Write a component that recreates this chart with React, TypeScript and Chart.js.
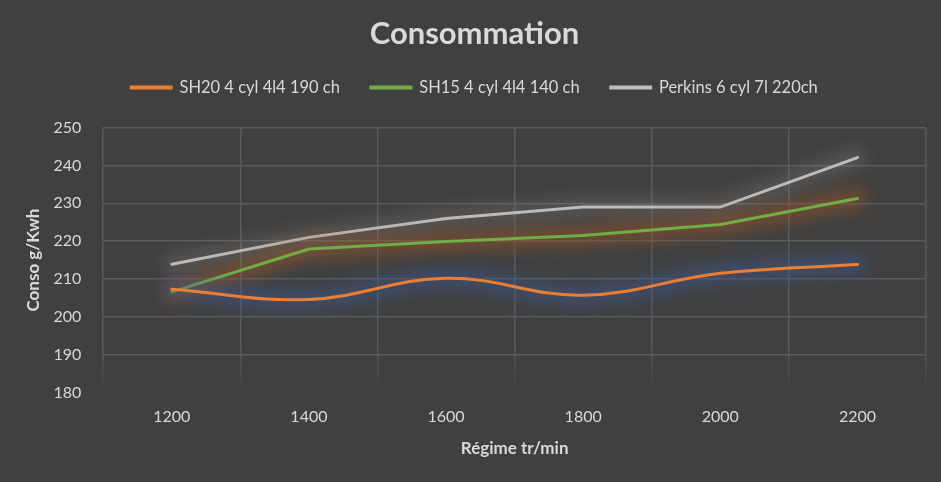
import React, { useEffect, useRef } from 'react';
import Chart from 'chart.js/auto';

const regimes = ['1200', '1400', '1600', '1800', '2000', '2200'];
const sh20 = [207.3, 204.6, 210.2, 205.7, 211.5, 213.8];
const sh15 = [206.6, 217.9, 219.9, 221.5, 224.4, 231.3];
const perkins = [213.9, 221, 226, 229, 229, 242.1];
const seriesLabels = ['SH20 4 cyl 4l4 190 ch', 'SH15 4 cyl 4l4 140 ch', 'Perkins 6 cyl 7l 220ch'];
const lineColors = ['#ED7D31', '#70AD47', '#BCBCBC'];
const glowColors = ['rgba(60, 90, 150, 0.55)', 'rgba(170, 90, 35, 0.5)', 'rgba(170, 170, 170, 0.22)'];

const FONT = 'Lato, "Open Sans", sans-serif';
const TEXT = '#D9D9D9';
const GRID = '#5A5A5A';

// Excel-like glow behind each line: a wide blurred stroke along the same path
const glowPlugin = {
    id: 'glow',
    beforeDatasetDraw(chart: any, args: any) {
        const line = args.meta.dataset;
        if (!line || !line.path) return;
        const ctx = chart.ctx;
        ctx.save();
        ctx.filter = 'blur(8px)';
        ctx.beginPath();
        line.path(ctx);
        ctx.strokeStyle = glowColors[args.index];
        ctx.lineWidth = 18;
        ctx.lineCap = 'round';
        ctx.lineJoin = 'round';
        ctx.stroke();
        ctx.restore();
    },
};

// extra room between the legend and the plot
const legendGap = {
    id: 'legendGap',
    beforeInit(chart: any) {
        const legend = chart.legend;
        if (!legend) return;
        const fit = legend.fit;
        legend.fit = function () {
            fit.bind(legend)();
            this.height += 22;
        };
    },
};

const App: React.FC = () => {
    const chartRef = useRef<HTMLCanvasElement | null>(null);

    useEffect(() => {
        const ctx = chartRef.current?.getContext('2d');
        if (!ctx) {
            return;
        }

        const fadeGrid = (c: any) => {
            const area = c.chart.chartArea;
            if (!area) return GRID;
            const g = c.chart.ctx.createLinearGradient(0, area.bottom - 45, 0, area.bottom);
            g.addColorStop(0, GRID);
            g.addColorStop(1, 'rgba(90, 90, 90, 0)');
            return g;
        };

        const data = [sh20, sh15, perkins];

        const myChart = new Chart(ctx, {
            type: 'line',
            data: {
                labels: regimes,
                datasets: data.map((values, i) => ({
                    label: seriesLabels[i],
                    data: values,
                    borderColor: lineColors[i],
                    backgroundColor: lineColors[i],
                    borderWidth: 3,
                    pointRadius: 0,
                    fill: false,
                    tension: i === 0 ? 0.4 : 0,
                    borderCapStyle: 'round',
                })),
            },
            plugins: [legendGap, glowPlugin],
            options: {
                responsive: true,
                maintainAspectRatio: false,
                animation: false,
                layout: {
                    padding: { top: 15, right: 15, bottom: 23, left: 23 },
                },
                plugins: {
                    title: {
                        display: true,
                        text: 'Consommation',
                        color: TEXT,
                        font: { family: FONT, size: 31, weight: 'bold' },
                        padding: { top: 0, bottom: -4 },
                    },
                    legend: {
                        display: true,
                        labels: {
                            color: TEXT,
                            font: { family: FONT, size: 16.5 },
                            boxWidth: 40,
                            boxHeight: 1,
                            padding: 31,
                        },
                    },
                    tooltip: { enabled: false },
                },
                scales: {
                    x: {
                        offset: true,
                        grid: {
                            offset: true,
                            color: fadeGrid,
                            lineWidth: 1.5,
                            drawTicks: false,
                        },
                        border: { display: false },
                        ticks: {
                            color: TEXT,
                            font: { family: FONT, size: 16 },
                            padding: 15,
                        },
                        title: {
                            display: true,
                            text: 'Régime tr/min',
                            color: TEXT,
                            font: { family: FONT, size: 17, weight: 'bold' },
                            padding: { top: -3, bottom: 0 },
                        },
                    },
                    y: {
                        min: 180,
                        max: 250,
                        grid: {
                            color: (c: any) => (c.tick && c.tick.value === 180 ? 'rgba(0,0,0,0)' : GRID),
                            lineWidth: 1.5,
                            drawTicks: false,
                        },
                        border: { display: false },
                        ticks: {
                            stepSize: 10,
                            color: TEXT,
                            font: { family: FONT, size: 16 },
                            padding: 22,
                        },
                        title: {
                            display: true,
                            text: 'Conso g/Kwh',
                            color: TEXT,
                            font: { family: FONT, size: 17, weight: 'bold' },
                            padding: { top: 0, bottom: -12 },
                        },
                    },
                },
            },
        });

        return () => {
            myChart.destroy();
        };
    }, []);

    return (
        <div style={{ position: 'absolute', left: 0, top: 0, width: 941, height: 482, background: '#404040' }}>
            <canvas ref={chartRef} />
        </div>
    );
};

export default App;
